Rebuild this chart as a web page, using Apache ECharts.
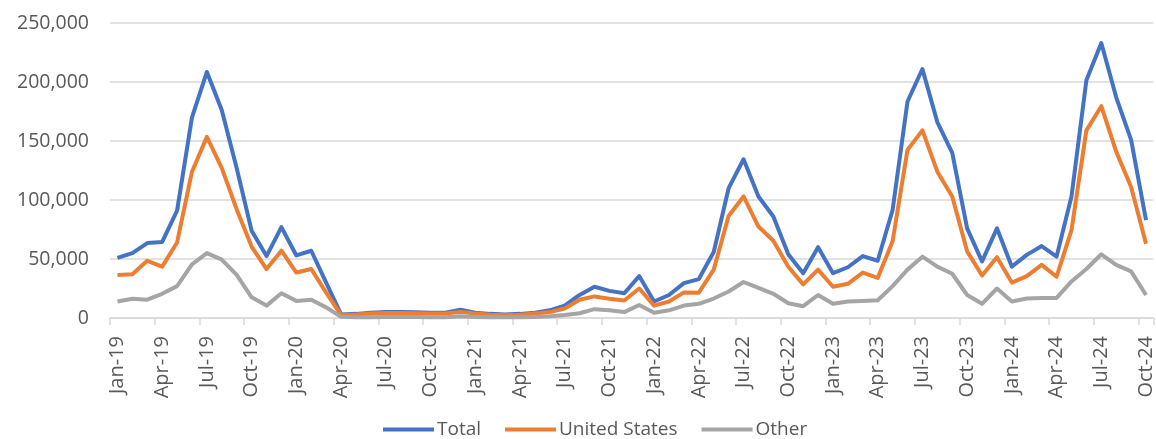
<!DOCTYPE html>
<html>
<head>
<meta charset="utf-8">
<script src="https://cdn.jsdelivr.net/npm/echarts@6/dist/echarts.min.js"></script>
<style>
html,body{margin:0;padding:0;background:#fff;}
#chart{width:1156px;height:439px;}
</style>
</head>
<body>
<div id="chart"></div>
<script>
const months = [
 'Jan-19','Feb-19','Mar-19','Apr-19','May-19','Jun-19','Jul-19','Aug-19','Sep-19','Oct-19','Nov-19','Dec-19',
 'Jan-20','Feb-20','Mar-20','Apr-20','May-20','Jun-20','Jul-20','Aug-20','Sep-20','Oct-20','Nov-20','Dec-20',
 'Jan-21','Feb-21','Mar-21','Apr-21','May-21','Jun-21','Jul-21','Aug-21','Sep-21','Oct-21','Nov-21','Dec-21',
 'Jan-22','Feb-22','Mar-22','Apr-22','May-22','Jun-22','Jul-22','Aug-22','Sep-22','Oct-22','Nov-22','Dec-22',
 'Jan-23','Feb-23','Mar-23','Apr-23','May-23','Jun-23','Jul-23','Aug-23','Sep-23','Oct-23','Nov-23','Dec-23',
 'Jan-24','Feb-24','Mar-24','Apr-24','May-24','Jun-24','Jul-24','Aug-24','Sep-24','Oct-24'
];
const total = [
 51000,55000,63500,64500,91000,170000,208500,176000,127000,74000,52500,77000,
 53000,57000,30000,3000,3500,4500,5000,5000,4800,4500,4500,7000,
 4500,3500,3000,3500,4500,6500,10500,19500,26500,23000,21000,35500,
 14000,19500,29500,33000,56000,110000,134500,103000,86000,54000,38000,60000,
 38000,43000,52500,48500,91500,183500,211000,166000,140000,76000,48000,76000,
 43500,53500,61000,52000,103000,201500,233000,187000,151000,83000
];
const unitedStates = [
 36500,37000,48500,43500,64000,124000,153500,127000,92000,60500,41500,57000,
 38500,41500,21500,2500,3000,3800,4200,4200,4000,3800,3800,5200,
 3800,2800,2500,2800,3800,5000,8000,15500,18300,16300,14800,25000,
 10500,14000,21700,21500,41000,86500,103000,77500,65500,43500,28500,41000,
 26500,29000,38500,34000,65000,142500,159000,124000,103000,56500,36000,51500,
 30000,35500,45000,35000,74500,159000,179500,141000,111000,63000
];
const other = [
 14000,16300,15500,20500,27000,45500,55000,49500,36500,17500,10500,21000,
 14500,15500,9000,1000,700,700,800,800,800,700,700,1500,
 800,700,600,700,800,1500,2500,4000,7500,6500,5000,11000,
 4500,6500,10500,12000,16500,22500,30500,25500,20500,12500,10000,19500,
 12000,14000,14500,15000,27000,41000,52000,43500,37500,19500,12000,25000,
 14000,16500,17000,17000,31000,41500,54000,45000,39500,19500
];
const seriesNames = ['Total','United States','Other'];
const colors = ['#4472C4','#ED7D31','#A5A5A5'];
const yTicks = {min:0, max:250000, interval:50000};

const chart = echarts.init(document.getElementById('chart'), null, {renderer:'canvas'});
const font = 'Open Sans';
const mk = (name, data, color) => ({
  name, type:'line', data, symbol:'none', smooth:false,
  lineStyle:{color, width:4, join:'round'}, itemStyle:{color},
  emphasis:{disabled:true}
});
chart.setOption({
  animation:false,
  color:colors,
  grid:{left:110, right:0, top:23, bottom:121, containLabel:false},
  legend:{
    left:378, top:415, icon:'rect', itemWidth:51, itemHeight:4, itemGap:24,
    textStyle:{fontFamily:font, fontSize:19, color:'#595959', padding:[0,0,0,-2]},
    data:seriesNames
  },
  xAxis:{
    type:'category', data:months, boundaryGap:true,
    axisLine:{lineStyle:{color:'#d9d9d9', width:1.5}},
    axisTick:{show:true, interval:2, length:7, lineStyle:{color:'#d9d9d9', width:1.5}},
    axisLabel:{interval:2, rotate:90, margin:18, fontFamily:font, fontSize:20, color:'#595959'},
    splitLine:{show:false}
  },
  yAxis:{
    type:'value', min:yTicks.min, max:yTicks.max, interval:yTicks.interval,
    axisLine:{show:false}, axisTick:{show:false},
    axisLabel:{margin:21, fontFamily:font, fontSize:19.5, color:'#595959',
      formatter:v=>v.toLocaleString('en-US')},
    splitLine:{lineStyle:{color:'#d9d9d9', width:1.5}}
  },
  series:[
    mk(seriesNames[0], total, colors[0]),
    mk(seriesNames[1], unitedStates, colors[1]),
    mk(seriesNames[2], other, colors[2])
  ]
});
</script>
</body>
</html>
